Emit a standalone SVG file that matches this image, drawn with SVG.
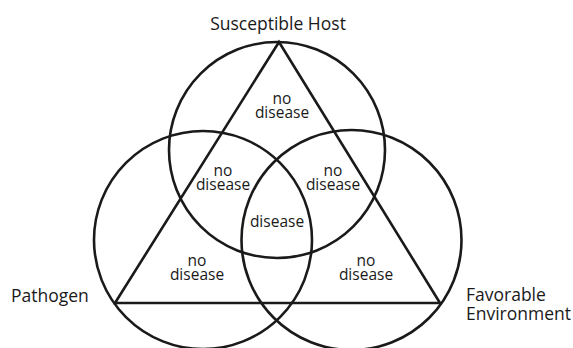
<svg xmlns="http://www.w3.org/2000/svg" width="573" height="348" viewBox="0 0 573 348">
<style>
.c{fill:none;stroke:#1a1a1a;stroke-width:2.6}
.t{font-family:"Open Sans","Noto Sans",sans-serif;fill:#1a1a1a}
.lab{font-size:17.5px}
.r{font-size:15.5px;text-anchor:middle}
</style>
<rect width="573" height="348" fill="#fff"/>
<g id="host"><circle class="c" cx="277" cy="150" r="108"/></g>
<g id="pathogen"><circle class="c" cx="203" cy="240" r="109"/></g>
<g id="environment"><circle class="c" cx="351.5" cy="240" r="110"/></g>
<g id="connectors"><polygon class="c" stroke-linejoin="miter" points="279,42 115,303 440,303"/></g>
<g id="labels" class="t">
<text class="lab" x="278" y="30" text-anchor="middle">Susceptible Host</text>
<text class="lab" x="11" y="302">Pathogen</text>
<text class="lab" x="466" y="301">Favorable</text>
<text class="lab" x="466" y="320">Environment</text>
</g>
<g id="regions" class="t r">
<text x="282" y="104">no</text><text x="282" y="118">disease</text>
<text x="223" y="176">no</text><text x="223" y="190">disease</text>
<text x="333" y="176">no</text><text x="333" y="190">disease</text>
<text x="277" y="227">disease</text>
<text x="197" y="266">no</text><text x="197" y="280">disease</text>
<text x="366" y="266">no</text><text x="366" y="280">disease</text>
</g>
</svg>
